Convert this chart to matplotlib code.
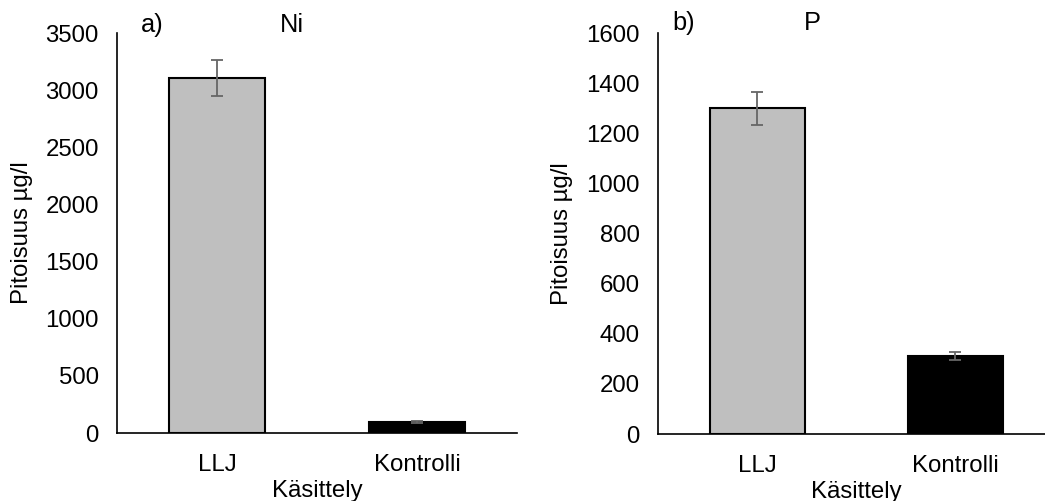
import matplotlib.pyplot as plt

plt.rcParams['font.family'] = ['Liberation Sans', 'DejaVu Sans']

# Data
categories = ['LLJ', 'Kontrolli']
ni_values = [3106, 96]
ni_errors = [158, 5]
p_values = [1300, 311]
p_errors = [66, 16]
bar_colors = ['#bfbfbf', '#000000']

FS = 17.3

fig = plt.figure(figsize=(10.45, 5.01), dpi=100)
ax1 = fig.add_axes([0.112, 0.1357, 0.383, 0.798])
ax2 = fig.add_axes([0.6297, 0.1337, 0.379, 0.800])

def draw_panel(ax, values, errors, ymax, step):
    x = range(len(categories))
    ax.bar(x, values, width=0.48, color=bar_colors, edgecolor='black', linewidth=1.5, zorder=2)
    ax.errorbar(x, values, yerr=errors, fmt='none', ecolor='#666666', elinewidth=1.3,
                capsize=4.5, capthick=1.3, zorder=3)
    ax.set_xlim(-0.5, 1.5)
    ax.set_ylim(0, ymax)
    ax.set_yticks(range(0, ymax + 1, step))
    ax.set_xticks(list(x))
    ax.set_xticklabels(categories)
    ax.tick_params(axis='both', length=0, labelsize=FS)
    ax.tick_params(axis='y', pad=13)
    ax.tick_params(axis='x', pad=15)
    ax.spines['top'].set_visible(False)
    ax.spines['right'].set_visible(False)
    ax.spines['left'].set_linewidth(1.2)
    ax.spines['bottom'].set_linewidth(1.2)
    ax.set_ylabel('Pitoisuus µg/l', fontsize=FS)
    ax.set_xlabel('Käsittely', fontsize=FS, labelpad=3)

draw_panel(ax1, ni_values, ni_errors, 3500, 500)
draw_panel(ax2, p_values, p_errors, 1600, 200)
ax1.yaxis.set_label_coords(-0.21, 0.5)
ax2.yaxis.set_label_coords(-0.215, 0.5)

fig.text(0.146, 0.95, 'a)', fontsize=FS + 1, ha='center', va='center')
fig.text(0.279, 0.95, 'Ni', fontsize=FS + 1, ha='center', va='center')
fig.text(0.654, 0.954, 'b)', fontsize=FS + 1, ha='center', va='center')
fig.text(0.777, 0.954, 'P', fontsize=FS + 1, ha='center', va='center')

fig.savefig('out.png', dpi=100)
